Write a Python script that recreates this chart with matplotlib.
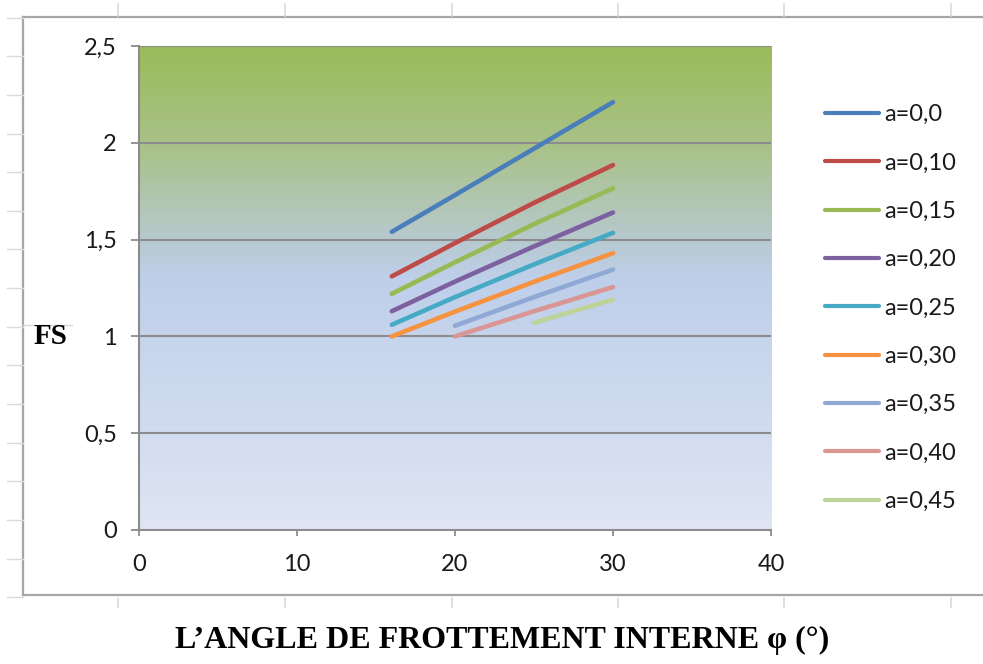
import numpy as np
import matplotlib
matplotlib.use("Agg")
import matplotlib.pyplot as plt
from matplotlib.lines import Line2D
from matplotlib.colors import to_rgb

# ---- data ----
phi = [16, 20, 25, 30]
series_labels = ["a=0,0", "a=0,10", "a=0,15", "a=0,20", "a=0,25",
                 "a=0,30", "a=0,35", "a=0,40", "a=0,45"]
fs_a000 = [1.54, 1.73, 1.97, 2.21]
fs_a010 = [1.31, 1.482, 1.69, 1.885]
fs_a015 = [1.22, 1.383, 1.58, 1.765]
fs_a020 = [1.13, 1.283, 1.465, 1.64]
fs_a025 = [1.06, 1.203, 1.372, 1.535]
fs_a030 = [1.00, 1.128, 1.282, 1.43]
fs_a035 = [None, 1.055, 1.203, 1.345]
fs_a040 = [None, 1.00, 1.13, 1.255]
fs_a045 = [None, None, 1.07, 1.19]
series_values = [fs_a000, fs_a010, fs_a015, fs_a020, fs_a025,
                 fs_a030, fs_a035, fs_a040, fs_a045]
series_colors = ["#4A7EBB", "#BE4B48", "#98B954", "#7D60A0", "#46AAC5",
                 "#F69240", "#8FA9D4", "#D99694", "#BDD39A"]
x_ticks = [0, 10, 20, 30, 40]
x_tick_labels = ["0", "10", "20", "30", "40"]
y_ticks = [0, 0.5, 1, 1.5, 2, 2.5]
y_tick_labels = ["0", "0,5", "1", "1,5", "2", "2,5"]
y_label = "FS"
x_label = "L\u2019ANGLE DE FROTTEMENT INTERNE \u03c6 (\u00b0)"

W, H = 983, 664
fig = plt.figure(figsize=(W / 100, H / 100), dpi=100)
fig.patch.set_facecolor("white")

def fx(x):
    return x / W

def fy(y):
    return 1 - y / H

ax = fig.add_axes([fx(139), fy(530), fx(771) - fx(139), fy(46) - fy(530)])

# gradient background of plot area
stops = [(0.0, "#9BBB59"), (0.22, "#AAC28C"), (0.40, "#B7C9CE"),
         (0.48, "#BECFEA"), (1.0, "#DFE5F3")]
n = 400
t = np.linspace(0, 1, n)
cols = np.zeros((n, 3))
for i in range(3):
    cols[:, i] = np.interp(t, [s[0] for s in stops], [to_rgb(s[1])[i] for s in stops])
grad = cols[:, None, :]
ax.imshow(grad, extent=[0, 40, 0, 2.5], aspect="auto", origin="upper", zorder=0)

for vals, lab, col in zip(series_values, series_labels, series_colors):
    xs = [p for p, v in zip(phi, vals) if v is not None]
    ys = [v for v in vals if v is not None]
    ax.plot(xs, ys, color=col, lw=3.3, solid_capstyle="round",
            solid_joinstyle="round", label=lab, zorder=3)

ax.set_xlim(0, 40)
ax.set_ylim(0, 2.5)
ax.set_xticks(x_ticks)
ax.set_xticklabels(x_tick_labels)
ax.set_yticks(y_ticks)
ax.set_yticklabels(y_tick_labels)
for yv in y_ticks[1:]:
    ax.axhline(yv, color="#8C8C8C", lw=1.5, zorder=1)

for s in ["top", "right"]:
    ax.spines[s].set_visible(False)
for s in ["left", "bottom"]:
    ax.spines[s].set_color("#8C8C8C")
    ax.spines[s].set_linewidth(1.5)

fsz = 17
ax.tick_params(axis="y", direction="out", length=6, width=1.3, color="#8C8C8C",
               pad=10, labelsize=fsz, labelcolor="#1a1a1a")
ax.tick_params(axis="x", direction="out", length=4, width=1.3, color="#8C8C8C",
               pad=13, labelsize=fsz, labelcolor="#1a1a1a")
for lbl in ax.get_xticklabels() + ax.get_yticklabels():
    lbl.set_fontfamily("Lato")

leg = fig.legend(loc="upper left", bbox_to_anchor=(fx(825), fy(104)),
                 frameon=False, prop=dict(family="Lato", size=fsz),
                 handlelength=2.3, handletextpad=0.22, labelspacing=1.16,
                 borderpad=0, borderaxespad=0)
for txt in leg.get_texts():
    txt.set_color("#1a1a1a")
for h in leg.legend_handles:
    h.set_solid_capstyle("round")
    h.set_linewidth(3.0)

# chart border
border = "#A6A6A6"
fig.add_artist(Line2D([fx(23), fx(983)], [fy(17), fy(17)], color=border, lw=1.6))
fig.add_artist(Line2D([fx(23), fx(983)], [fy(595), fy(595)], color=border, lw=1.6))
fig.add_artist(Line2D([fx(23), fx(23)], [fy(17), fy(595)], color=border, lw=1.6))

# faint document table marks
faint = "#DADADA"
for k in range(16):
    yy = 17.6 + 38.64 * k
    fig.add_artist(Line2D([fx(7), fx(23)], [fy(yy), fy(yy)], color=faint, lw=1.0))
fig.add_artist(Line2D([fx(23), fx(72)], [fy(325), fy(325)], color=faint, lw=1.0))
for xx in [118, 285, 452, 618, 784, 951]:
    fig.add_artist(Line2D([fx(xx), fx(xx)], [fy(4), fy(16)], color=faint, lw=1.2))
    fig.add_artist(Line2D([fx(xx), fx(xx)], [fy(598), fy(607)], color=faint, lw=1.2))

fig.text(fx(50), fy(337), y_label, ha="center", va="center",
         family="Liberation Serif", weight="bold", size=21)
fig.text(fx(502), fy(640), x_label, ha="center", va="center",
         family="Liberation Serif", weight="bold", size=23)

fig.savefig("out.png", dpi=100)
